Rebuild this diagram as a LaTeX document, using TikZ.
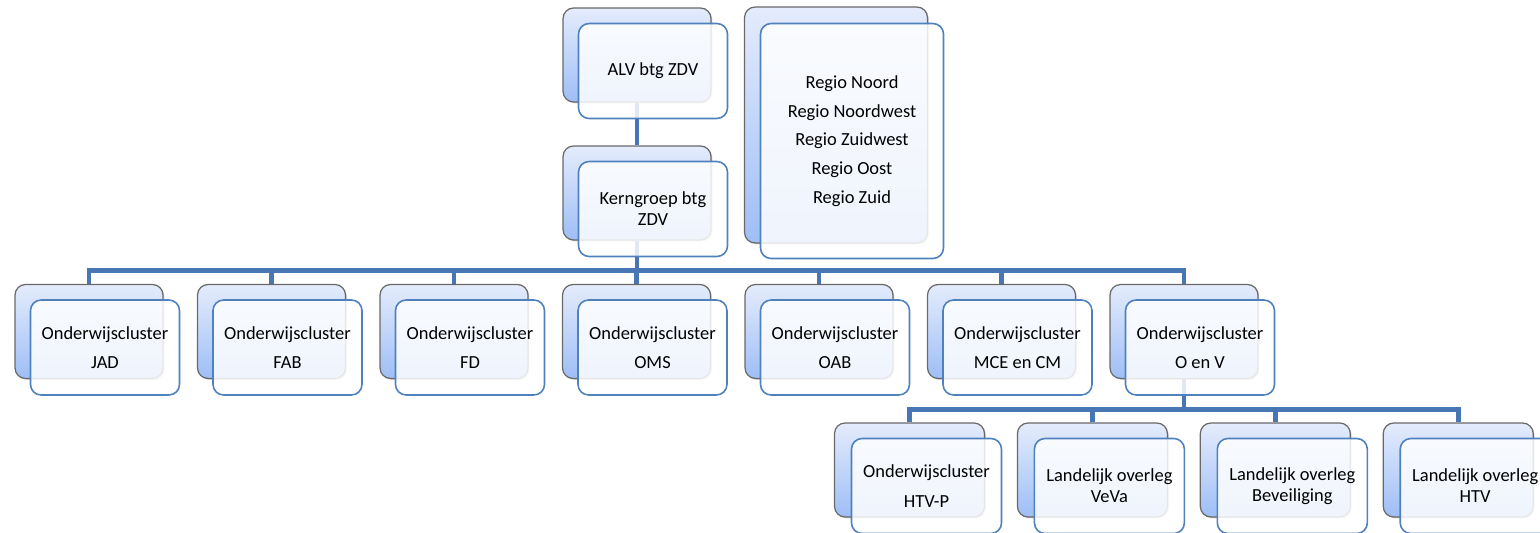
\documentclass[tikz,border=0pt]{standalone}
\usepackage{fontspec}
\setmainfont{Carlito}
\usepackage{tikz}
\usetikzlibrary{calc,positioning,shadows,backgrounds}
\definecolor{backtop}{RGB}{228,236,252}
\definecolor{backbot}{RGB}{158,190,246}
\definecolor{backline}{RGB}{105,105,105}
\definecolor{frontline}{RGB}{79,129,189}
\definecolor{linkcol}{RGB}{72,118,180}
\tikzstyle{unit back}=[rectangle,rounded corners=6pt,draw=backline,line width=0.7pt,
  top color=backtop,bottom color=backbot,minimum width=2.96cm,minimum height=1.88cm,
  drop shadow={opacity=0.35,shadow xshift=0.8pt,shadow yshift=-0.8pt}]
\tikzstyle{unit front}=[rectangle,rounded corners=6pt,draw=frontline,line width=0.9pt,
  fill=white,fill opacity=0.84,text opacity=1,minimum width=2.98cm,minimum height=1.9cm,
  align=center,font=\fontsize{10.5}{12}\selectfont]
\tikzstyle{link}=[draw=linkcol,line width=2.8pt]

\begin{document}
\begin{tikzpicture}[x=0.02cm,y=-0.02cm]
  \clip (0,0) rectangle (1540,533);

  % top of the tree
  \node[unit back] (alvb) at (637,55) {};
  \node[unit front] (alv) at ($(alvb)+(16,16)$) {ALV btg ZDV};
  \node[unit back] (kernb) at (637,193) {};
  \node[unit front] (kern) at ($(kernb)+(16,16)$) {Kerngroep btg\\ZDV};

  % regions
  \node[unit back, minimum width=3.66cm, minimum height=4.72cm] (regiob) at (836,125) {};
  \node[unit front, minimum width=3.66cm, minimum height=4.7cm] (regio) at ($(regiob)+(16,16)$)
    {Regio Noord\\[4.4pt]Regio Noordwest\\[4.4pt]Regio Zuidwest\\[4.4pt]Regio Oost\\[4.4pt]Regio Zuid};

  % clusters
  \foreach \nm/\lbl [count=\i from 0] in {jad/JAD,fab/FAB,fd/FD,oms/OMS,oab/OAB,mce/MCE en CM,oenv/O en V}{
    \node[unit back] (\nm b) at (89+182.5*\i,331.5) {};
    \node[unit front] (\nm) at ($(\nm b)+(16,16)$) {Onderwijscluster\\[4.5pt]\lbl};
  }

  % under O en V
  \foreach \nm/\txt [count=\i from 0] in {htvp/{Onderwijscluster\\[5pt]HTV-P},
      veva/{Landelijk overleg\\VeVa},beveiliging/{Landelijk overleg\\Beveiliging},
      htv/{Landelijk overleg\\HTV}}{
    \node[unit back, minimum width=3cm] (\nm b) at (909.5+182.9*\i,470) {};
    \node[unit front, minimum width=3cm] (\nm) at ($(\nm b)+(17,16)$) {\txt};
  }

  \begin{pgfonlayer}{background}
    \path[link] (alvb.south) -- (kernb.north);
    \foreach \nm in {jad,fab,fd,oms,oab,mce,oenv}
      \path[link] (kernb.south) -- ++(0,30) -| (\nm b.north);
    \foreach \nm in {htvp,veva,beveiliging,htv}
      \path[link] (oenvb.south) -- ++(0,30) -| (\nm b.north);
  \end{pgfonlayer}
\end{tikzpicture}
\end{document}
